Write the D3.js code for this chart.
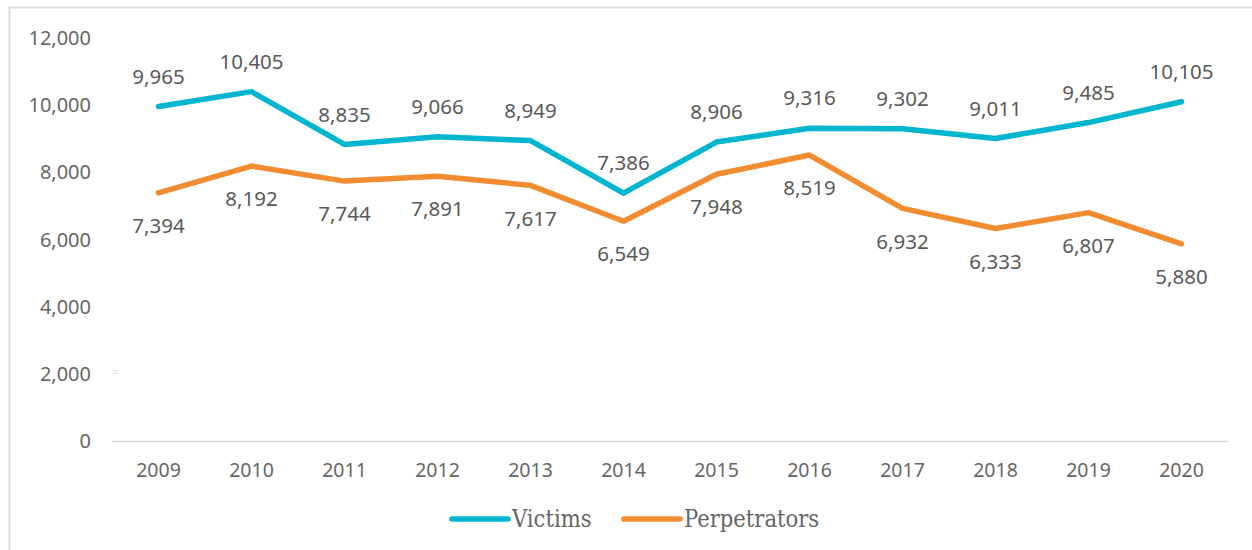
<!DOCTYPE html>
<html>
<head>
<meta charset="utf-8">
<script src="https://cdn.jsdelivr.net/npm/d3@7"></script>
<style>
  body { margin: 0; background: #fff; }
  svg { display: block; }
</style>
</head>
<body>
<svg id="chart" width="1252" height="550"></svg>
<script>
var years = ['2009','2010','2011','2012','2013','2014','2015','2016','2017','2018','2019','2020']
var victims = [9965, 10405, 8835, 9066, 8949, 7386, 8906, 9316, 9302, 9011, 9485, 10105]
var perpetrators = [7394, 8192, 7744, 7891, 7617, 6549, 7948, 8519, 6932, 6333, 6807, 5880]
var yTicks = [0, 2000, 4000, 6000, 8000, 10000, 12000]

var series = [
  { name: 'Victims', values: victims, color: '#00b6cf', labelDy: -30 },
  { name: 'Perpetrators', values: perpetrators, color: '#f28c31', labelDy: 33 }
]

var svg = d3.select('#chart')
var fmt = d3.format(',')

// outer frame
svg.append('rect')
  .attr('x', 9.5).attr('y', 7.5)
  .attr('width', 1300).attr('height', 600)
  .attr('fill', 'none')
  .attr('stroke', '#dcdcdc')
  .attr('stroke-width', 2)

var x = d3.scaleBand().domain(years).range([112, 1228])
var y = d3.scaleLinear().domain([0, 12000]).range([441.5, 38])

// baseline
svg.append('line')
  .attr('x1', x.range()[0]).attr('x2', x.range()[1])
  .attr('y1', y(0)).attr('y2', y(0))
  .attr('stroke', '#d9d9d9')
  .attr('stroke-width', 1.5)

// y axis labels
var yAxis = svg.append('g')
  .attr('transform', 'translate(91,0)')
  .call(d3.axisLeft(y).tickValues(yTicks).tickFormat(fmt).tickSize(0).tickPadding(0))
yAxis.select('.domain').remove()
yAxis.selectAll('text')
  .attr('font-family', 'Noto Sans, sans-serif')
  .attr('font-size', 20)
  .attr('fill', '#666')

// x axis labels
var xAxis = svg.append('g')
  .attr('transform', 'translate(0,' + y(0) + ')')
  .call(d3.axisBottom(x).tickSize(0).tickPadding(22))
xAxis.select('.domain').remove()
xAxis.selectAll('text')
  .attr('font-family', 'Noto Sans, sans-serif')
  .attr('font-size', 19.5)
  .attr('fill', '#666')

// small mark near the 2,000 label
svg.selectAll('.mark').data([0, 3]).enter().append('line')
  .attr('x1', 113).attr('x2', 118)
  .attr('y1', function (d) { return y(2000) - 4 + d }).attr('y2', function (d) { return y(2000) - 4 + d })
  .attr('stroke', '#ddd').attr('stroke-width', 1)

var line = d3.line()
  .x(function (d, i) { return x(years[i]) + x.bandwidth() / 2 })
  .y(function (d) { return y(d) })

series.forEach(function (s) {
  svg.append('path')
    .datum(s.values)
    .attr('d', line)
    .attr('fill', 'none')
    .attr('stroke', s.color)
    .attr('stroke-width', 5.5)
    .attr('stroke-linejoin', 'round')
    .attr('stroke-linecap', 'round')

  svg.append('g').selectAll('text')
    .data(s.values)
    .enter().append('text')
    .attr('x', function (d, i) { return x(years[i]) + x.bandwidth() / 2 })
    .attr('y', function (d) { return y(d) + s.labelDy })
    .attr('dy', '0.35em')
    .attr('text-anchor', 'middle')
    .attr('font-family', 'Noto Sans, sans-serif')
    .attr('font-size', 20.5)
    .attr('fill', '#595959')
    .text(function (d) { return fmt(d) })
})

// legend
var legendX = [452, 624]
var legend = svg.selectAll('.legend')
  .data(series)
  .enter().append('g')
  .attr('class', 'legend')
  .attr('transform', function (d, i) { return 'translate(' + legendX[i] + ',519)' })

legend.append('line')
  .attr('x1', 0).attr('x2', 56)
  .attr('stroke', function (d) { return d.color })
  .attr('stroke-width', 5.5)
  .attr('stroke-linecap', 'round')

legend.append('text')
  .attr('x', 60)
  .attr('y', 8)
  .attr('font-family', 'DejaVu Serif Condensed, DejaVu Serif, serif')
  .attr('font-size', 23.5)
  .attr('fill', '#666')
  .text(function (d) { return d.name })
</script>
</body>
</html>
